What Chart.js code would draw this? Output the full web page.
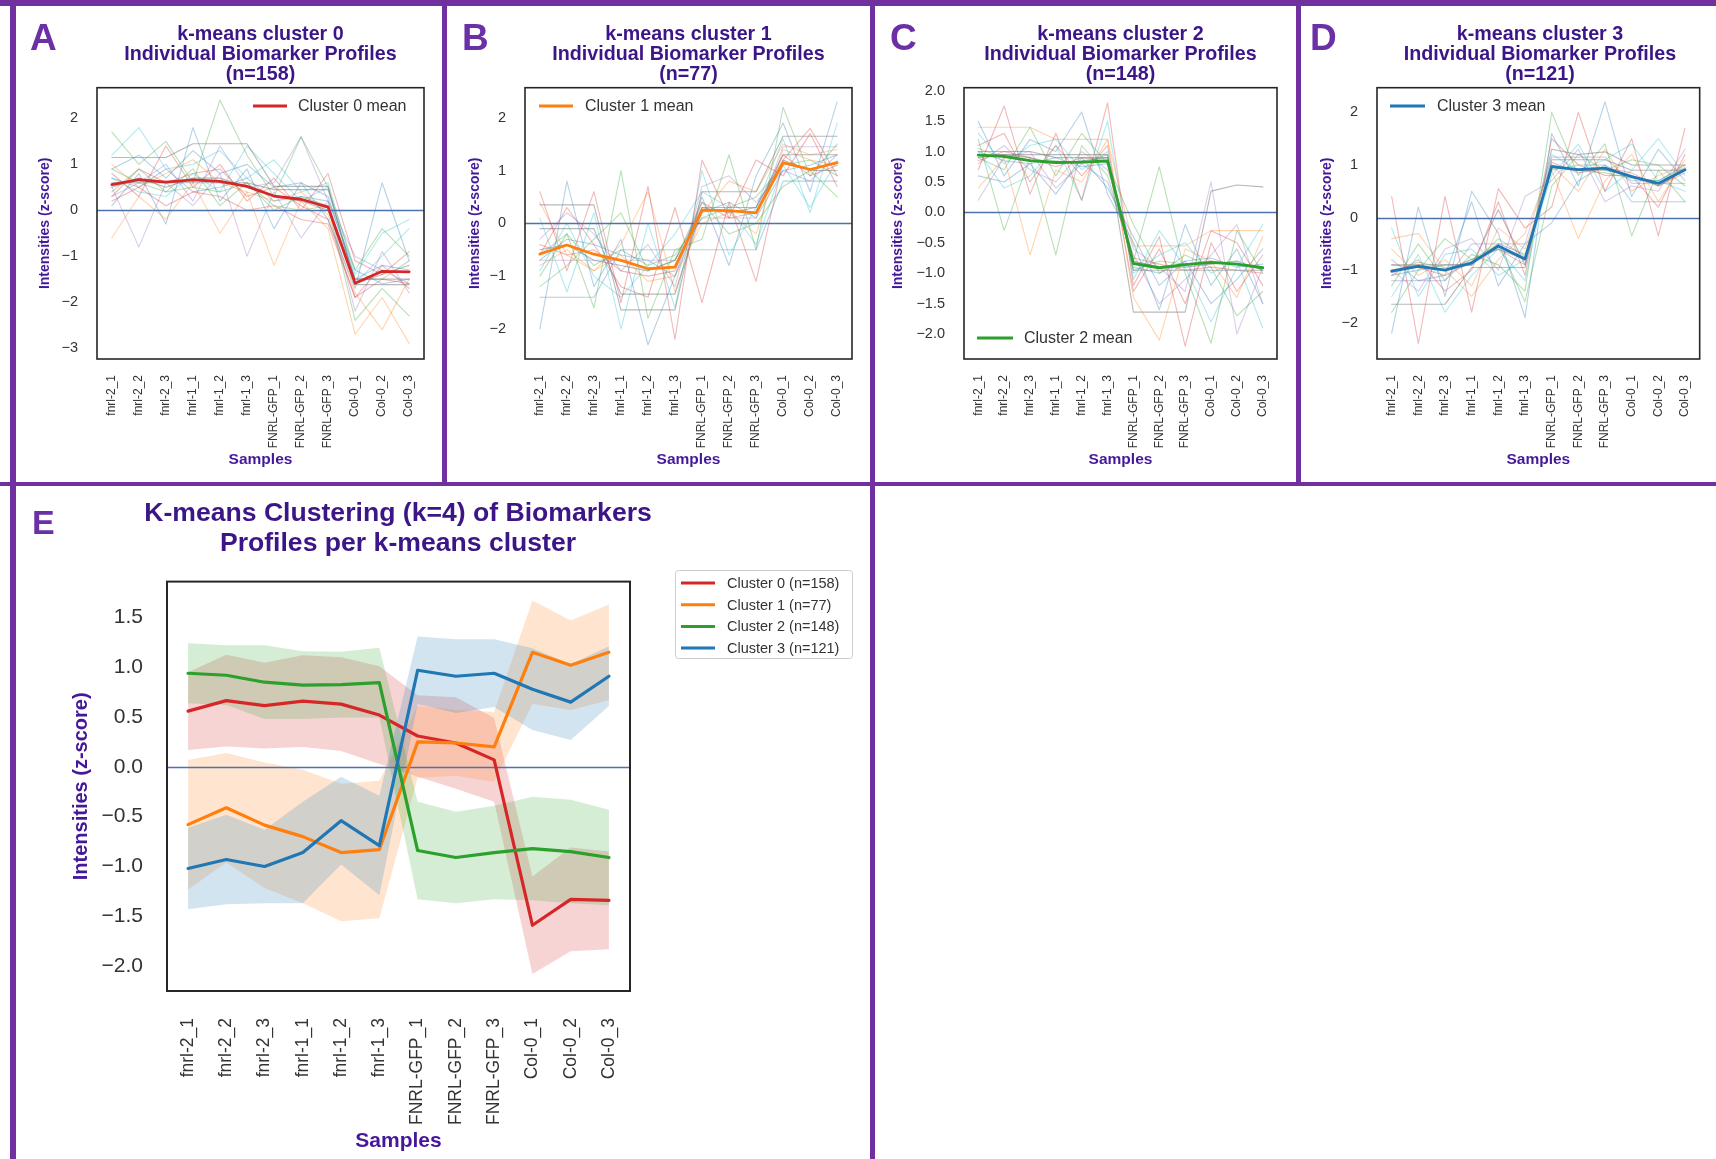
<!DOCTYPE html>
<html>
<head>
<meta charset="utf-8">
<title>K-means clustering of biomarker profiles</title>
<script src="https://cdn.jsdelivr.net/npm/chart.js@4.4.1/dist/chart.umd.min.js"></script>
<style>
  html, body { margin: 0; padding: 0; background: #ffffff; }
  body { width: 1716px; height: 1159px; position: relative; overflow: hidden;
         font-family: "Liberation Sans", Arial, sans-serif; }
  canvas { position: absolute; }
  .rule { position: absolute; background: #7030a0; z-index: 5; }
  .letter { position: absolute; font-weight: bold; color: #6b2fa6; line-height: 1; }
  .title { position: absolute; font-weight: bold; color: #3c1587; text-align: center;
           white-space: nowrap; transform: translateX(-50%); }
</style>
</head>
<body>
<script>
// ---- samples (x axis) ----
const samples = ['fnrl-2_1', 'fnrl-2_2', 'fnrl-2_3', 'fnrl-1_1', 'fnrl-1_2', 'fnrl-1_3',
                 'FNRL-GFP_1', 'FNRL-GFP_2', 'FNRL-GFP_3', 'Col-0_1', 'Col-0_2', 'Col-0_3'];

// ---- cluster sizes ----
const clusterSizes = [158, 77, 148, 121];

// ---- cluster mean profiles (z-score) ----
const mean0 = [0.56, 0.665, 0.615, 0.66, 0.63, 0.52, 0.31, 0.24, 0.07, -1.59, -1.33, -1.34];
const mean1 = [-0.58, -0.41, -0.585, -0.70, -0.86, -0.83, 0.25, 0.24, 0.20, 1.15, 1.02, 1.15];
const mean2 = [0.94, 0.92, 0.85, 0.82, 0.825, 0.845, -0.84, -0.91, -0.86, -0.82, -0.85, -0.91];
const mean3 = [-1.02, -0.93, -1.00, -0.86, -0.54, -0.79, 0.97, 0.91, 0.94, 0.78, 0.65, 0.91];

// ---- cluster standard deviations (shaded bands) ----
const std0 = [0.39, 0.46, 0.43, 0.46, 0.47, 0.49, 0.41, 0.46, 0.42, 0.49, 0.52, 0.49];
const std1 = [0.65, 0.55, 0.63, 0.67, 0.69, 0.69, 0.36, 0.33, 0.35, 0.52, 0.45, 0.48];
const std2 = [0.30, 0.30, 0.37, 0.34, 0.33, 0.35, 0.49, 0.46, 0.47, 0.52, 0.52, 0.48];
const std3 = [0.41, 0.45, 0.37, 0.51, 0.44, 0.50, 0.34, 0.37, 0.34, 0.41, 0.38, 0.30];

// ---- individual biomarker profiles per cluster ----
const cluster0Profiles = [
  [1.15, 1.15, 1.15, 1.45, 1.45, 1.45, 0.52, 0.52, 0.52, -1.62, -1.62, -1.62],
  [0.9, 1.2, 0.7, 1.3, 0.8, 1.0, 0.5, 0.6, 0.3, -1.5, -1.2, -1.3],
  [0.2, 0.5, 0.1, 0.4, 0.3, 0.0, 0.1, -0.2, -0.3, -1.9, -1.5, -1.6],
  [1.7, 1.0, 1.5, 0.6, 2.4, 1.2, 0.3, 1.6, 0.5, -1.3, -0.4, -1.0],
  [-0.6, 0.3, -0.2, 0.6, -0.5, 0.4, -1.2, 0.2, -0.4, -2.7, -1.9, -2.9],
  [0.5, -0.8, 0.6, 0.1, 0.8, -1.0, 0.4, -0.6, 0.2, -2.2, -0.9, -1.8],
  [1.2, 1.8, 0.9, 1.0, 1.3, 0.7, 1.1, 0.4, 0.6, -1.4, -0.5, -0.2],
  [0.6, 0.6, 0.6, 0.6, 0.6, 0.6, 0.45, 0.45, 0.45, -1.5, -1.5, -1.5],
  [0.1, 0.8, -0.3, 1.8, 0.2, 0.9, -0.4, 0.6, -0.2, -1.7, 0.6, -1.1],
  [0.8, 0.3, 1.4, 0.5, 1.0, 0.2, 0.7, 0.0, 0.8, -1.1, -1.4, -0.9],
  [0.4, 0.9, 0.4, 0.9, 0.1, 0.6, 0.0, 0.3, 0.1, -2.4, -1.7, -2.3],
  [1.0, 0.5, 0.8, 1.1, 0.6, 0.4, 0.2, 0.4, -0.1, -1.8, -2.6, -1.5],
  [0.3, 0.6, 1.0, 0.2, 1.4, 0.5, 0.6, 1.6, 0.2, -1.0, -1.3, -1.6],
  [0.7, 0.4, 0.3, 0.8, 0.4, 1.4, 0.8, 0.2, 0.5, -1.6, -1.0, -0.4],
  [0.5, 0.7, 0.5, 0.7, 0.7, 0.5, 0.3, 0.2, 0.0, -1.6, -1.4, -1.2],
  [0.7, 0.5, 0.9, 0.4, 0.5, 0.7, 0.2, 0.3, 0.2, -1.3, -1.6, -1.5],
  [0.3, 0.9, 0.6, 0.8, 0.9, 0.3, 0.5, 0.1, -0.2, -1.9, -1.2, -1.7],
  [0.9, 0.6, 0.4, 0.5, 0.4, 0.6, 0.1, 0.0, 0.1, -1.5, -1.5, -1.1]
];
const cluster1Profiles = [
  [0.35, 0.35, 0.35, -1.64, -1.64, -1.64, 0.6, 0.6, 0.6, 1.65, 1.65, 1.65],
  [-2.0, 0.8, -1.2, -0.3, -2.3, -1.0, 0.5, -0.8, 0.9, 1.9, 0.6, 2.3],
  [0.6, -0.9, 0.6, -1.5, 0.7, -2.2, 1.2, 0.1, 1.2, 0.9, 1.7, 0.7],
  [-1.0, -0.2, -1.6, 1.0, -1.8, -0.5, -0.3, 1.3, -0.5, 2.2, 0.9, 1.5],
  [-0.8, -0.5, -0.9, -0.6, -1.1, -1.0, 0.0, 0.2, -0.2, 1.4, 1.2, 1.1],
  [-0.3, 0.2, -0.2, -0.9, -0.4, -1.2, 0.7, 0.9, 0.4, 1.0, 0.8, 1.3],
  [0.1, -1.3, 0.2, -2.0, 0.0, -1.6, 1.0, -0.6, 0.3, 1.6, 0.2, 1.9],
  [-0.1, -0.1, -0.1, -1.34, -1.34, -1.34, 0.3, 0.3, 0.3, 1.3, 1.3, 1.3],
  [-1.4, -1.4, -1.4, -0.5, -0.5, -0.5, -0.5, -0.5, -0.5, 0.8, 0.8, 0.8],
  [-0.6, 0.3, -0.4, -1.2, -1.4, 0.3, -1.5, 0.4, -1.1, 1.2, 1.8, 0.9],
  [-1.2, -0.8, -0.3, 0.2, -0.9, -0.7, 0.4, -0.2, 0.0, 0.7, 1.0, 0.5],
  [0.4, -0.6, -0.9, -0.4, 0.6, -1.3, 0.2, 0.8, 0.6, 1.5, 1.3, 1.4],
  [-0.7, -0.7, -0.7, -0.7, -0.7, -0.7, 0.1, 0.1, 0.1, 1.45, 1.45, 1.45],
  [-0.9, 0.0, -1.0, -1.4, -0.8, -0.2, 0.6, 0.3, -0.4, 1.1, 0.3, 1.2],
  [-0.5, -0.4, -0.7, -0.8, -0.9, -0.7, 0.3, 0.2, 0.3, 1.2, 1.0, 1.0],
  [-0.7, -0.3, -0.4, -0.6, -0.7, -1.0, 0.2, 0.4, 0.1, 1.0, 1.1, 1.3],
  [-0.4, -0.6, -0.5, -0.9, -1.0, -0.9, 0.4, 0.1, 0.2, 1.3, 0.9, 1.1],
  [-0.6, -0.2, -0.8, -0.5, -0.8, -0.6, 0.1, 0.3, 0.5, 1.1, 1.2, 0.9]
];
const cluster2Profiles = [
  [0.95, 0.95, 0.95, 0.95, 0.95, 0.95, -1.64, -1.64, -1.64, 0.35, 0.45, 0.42],
  [1.5, 0.6, 1.2, 1.0, 1.65, 0.3, -0.5, -1.6, -0.2, -1.2, -0.6, -1.5],
  [0.7, 1.75, 0.3, 1.3, 0.2, 1.8, -1.2, -0.4, -2.2, -0.5, -1.3, -0.7],
  [1.2, -0.3, 0.9, -0.7, 1.1, 0.6, -0.8, 0.75, -1.0, -2.15, -0.3, -1.0],
  [0.4, 0.9, -0.7, 0.7, 0.5, 1.2, -1.4, -2.1, -0.6, -0.8, -1.4, -0.4],
  [0.8, 1.1, 0.7, 0.5, 1.0, 0.7, -0.6, -0.9, -1.3, 0.5, -2.0, -0.9],
  [1.3, 0.8, 1.1, 1.2, 0.7, 1.0, -1.0, -0.7, -0.5, -1.0, -0.8, -1.9],
  [1.0, 1.0, 1.0, 0.9, 0.9, 0.9, -0.95, -0.95, -0.95, -0.95, -0.95, -0.95],
  [0.6, 0.5, 0.8, 0.3, 0.9, 0.4, -0.4, -1.2, -0.8, -1.5, -1.1, -0.6],
  [1.1, 1.3, 0.5, 1.1, 0.6, 1.1, -1.3, -0.6, -1.5, -0.3, -0.5, -1.2],
  [0.9, 0.7, 1.4, 0.6, 1.3, 0.8, -0.2, -1.0, -0.7, -0.9, -1.7, -1.3],
  [1.4, 1.4, 1.4, 1.2, 1.2, 1.2, -0.55, -0.55, -0.55, -0.3, -0.3, -0.3],
  [0.2, 0.9, 1.0, 0.4, 0.8, 0.5, -0.7, -1.5, -1.1, -0.7, -0.2, -1.5],
  [1.0, 0.4, 0.6, 1.1, 0.2, 1.5, -1.1, -0.3, -0.9, -1.8, -0.9, -0.2],
  [0.9, 0.95, 0.9, 0.8, 0.85, 0.9, -0.8, -0.9, -0.9, -0.85, -0.8, -0.95],
  [1.0, 0.85, 0.8, 0.9, 0.75, 0.8, -0.9, -1.0, -0.8, -0.75, -0.9, -0.85],
  [0.85, 1.0, 0.9, 0.75, 0.9, 0.85, -0.75, -0.85, -0.95, -0.9, -0.95, -1.0],
  [1.05, 0.9, 0.85, 0.85, 0.8, 0.95, -0.95, -0.8, -0.85, -0.8, -0.85, -0.9]
];
const cluster3Profiles = [
  [-1.65, -1.65, -1.65, -0.95, -0.95, -0.95, 1.1, 1.1, 1.1, 0.9, 0.9, 0.9],
  [-2.2, 0.2, -1.5, 0.5, -0.3, -1.9, 1.6, 0.6, 2.2, 0.4, 1.3, 0.7],
  [0.4, -2.4, 0.4, -1.8, 0.55, -0.2, 0.2, 2.0, 0.5, 1.5, -0.35, 1.7],
  [-1.3, -0.5, -1.2, -0.7, -0.9, -1.4, 2.0, 0.8, 1.4, -0.35, 0.9, 0.3],
  [-0.6, -1.1, -0.8, -1.3, -0.2, -0.6, 0.9, -0.4, 0.7, 1.2, 0.3, 1.1],
  [-1.0, -1.4, -0.6, -0.4, -1.0, 0.4, 0.7, 1.3, 0.3, 0.6, 0.5, 1.3],
  [-1.5, -0.7, -1.8, -1.1, -0.6, -1.2, 1.2, 0.9, 1.1, 1.4, 0.7, 0.5],
  [-0.9, -0.9, -0.9, -0.9, 0.15, -0.9, 1.3, 1.2, 1.25, 1.0, 1.0, 1.0],
  [-0.8, -1.2, -1.1, 0.3, -1.3, -0.5, -0.1, 0.7, 1.0, 0.3, 0.3, 0.3],
  [-1.1, -0.8, -1.4, -1.0, 0.3, -1.1, 1.5, 1.0, 0.8, 0.8, 0.2, 1.2],
  [-1.8, -1.0, -0.4, -0.8, -0.5, -1.6, 0.6, 1.2, 0.9, 1.1, 1.0, 0.6],
  [-0.4, -0.3, -1.0, -1.5, -0.8, -0.3, 1.0, 0.5, 1.3, 0.5, 0.8, 1.0],
  [-1.2, -1.2, -1.2, -0.5, -0.5, -0.5, 1.15, 1.15, 1.15, 0.65, 0.65, 0.65],
  [-0.2, -1.5, -0.7, -0.6, -1.1, -0.8, 0.8, 1.4, 0.5, 0.9, 1.5, 0.8],
  [-1.0, -0.9, -1.0, -0.8, -0.6, -0.8, 1.0, 0.9, 0.9, 0.8, 0.6, 0.9],
  [-1.1, -1.0, -0.9, -0.9, -0.5, -0.7, 0.9, 1.0, 1.0, 0.7, 0.7, 1.0],
  [-0.9, -0.95, -1.1, -0.85, -0.6, -0.9, 1.05, 0.85, 0.95, 0.85, 0.6, 0.85],
  [-1.05, -0.85, -0.95, -0.9, -0.4, -0.75, 0.95, 0.9, 0.85, 0.75, 0.7, 0.95]
];

// ---- y tick values ----
const ticksA = [-3, -2, -1, 0, 1, 2];
const ticksB = [-2, -1, 0, 1, 2];
const ticksC = [-2.0, -1.5, -1.0, -0.5, 0.0, 0.5, 1.0, 1.5, 2.0];
const ticksD = [-2, -1, 0, 1, 2];
const ticksE = [-2.0, -1.5, -1.0, -0.5, 0.0, 0.5, 1.0, 1.5];

// ------------------------------------------------------------------
const FONT = '"Liberation Sans", Arial, Helvetica, sans-serif';
const AXIS_PURPLE = '#45189a';
const TEXT_GRAY = '#333333';
const clusterColors = ['#d62728', '#ff7f0e', '#2ca02c', '#1f77b4'];
const faintCycle = ['#7f7f7f', '#1f77b4', '#d62728', '#2ca02c', '#ff7f0e', '#9467bd', '#17becf'];

function rgba(hex, a) {
  const n = parseInt(hex.slice(1), 16);
  return `rgba(${(n >> 16) & 255},${(n >> 8) & 255},${n & 255},${a})`;
}
function pts(values) { return values.map((v, i) => ({ x: i, y: v })); }
function fmt(v, dec) {
  const s = Math.abs(v).toFixed(dec);
  return (v < -1e-9 ? '\u2212' : '') + s;
}

// frame around the plotting area
const framePlugin = {
  id: 'frame',
  afterDatasetsDraw(chart, args, o) {
    const { ctx, chartArea: a } = chart;
    ctx.save();
    ctx.strokeStyle = '#262626';
    ctx.lineWidth = o.width || 1.6;
    ctx.strokeRect(a.left, a.top, a.right - a.left, a.bottom - a.top);
    ctx.restore();
  }
};

// horizontal reference line at z = 0, drawn just before a given dataset
const zeroPlugin = {
  id: 'zero',
  beforeDatasetDraw(chart, args, o) {
    if (args.index !== o.before) return;
    const { ctx, chartArea: a, scales } = chart;
    const y = Math.round(scales.y.getPixelForValue(0)) + 0.5;
    ctx.save();
    ctx.strokeStyle = '#4c72b0';
    ctx.lineWidth = 1.3;
    ctx.beginPath();
    ctx.moveTo(a.left, y);
    ctx.lineTo(a.right, y);
    ctx.stroke();
    ctx.restore();
  }
};

// legend placed inside the canvas (coordinates given in page space)
const inLegendPlugin = {
  id: 'inLegend',
  afterDraw(chart, args, o) {
    if (!o.items) return;
    const ctx = chart.ctx;
    const ox = o.originX, oy = o.originY;
    ctx.save();
    if (o.box) {
      const [bx0, by0, bx1, by1] = o.box;
      const x = bx0 - ox + 0.5, y = by0 - oy + 0.5, w = bx1 - bx0, h = by1 - by0, r = 3;
      ctx.beginPath();
      ctx.moveTo(x + r, y);
      ctx.arcTo(x + w, y, x + w, y + h, r);
      ctx.arcTo(x + w, y + h, x, y + h, r);
      ctx.arcTo(x, y + h, x, y, r);
      ctx.arcTo(x, y, x + w, y, r);
      ctx.closePath();
      ctx.fillStyle = 'rgba(255,255,255,0.85)';
      ctx.fill();
      ctx.strokeStyle = '#cccccc';
      ctx.lineWidth = 1;
      ctx.stroke();
    }
    ctx.font = `${o.size}px ${FONT}`;
    ctx.textBaseline = 'middle';
    ctx.textAlign = 'left';
    o.items.forEach((it, i) => {
      const y = o.y + i * (o.step || 0) - oy;
      ctx.strokeStyle = it.color;
      ctx.lineWidth = o.lineWidth;
      ctx.lineCap = 'butt';
      ctx.beginPath();
      ctx.moveTo(o.x0 - ox, y);
      ctx.lineTo(o.x1 - ox, y);
      ctx.stroke();
      ctx.fillStyle = TEXT_GRAY;
      ctx.fillText(it.text, o.tx - ox, y + 1);
    });
    ctx.restore();
  }
};

function makeChart(s) {
  const [cx, cy, cw, ch] = s.canvas;
  const [l, t, r, b] = s.plot;
  const cv = document.createElement('canvas');
  cv.width = cw; cv.height = ch;
  cv.style.left = cx + 'px'; cv.style.top = cy + 'px';
  cv.style.width = cw + 'px'; cv.style.height = ch + 'px';
  document.body.appendChild(cv);
  const yLH = s.fonts.yTitle * 1.2, xLH = s.fonts.xTitle * 1.2;
  const legend = s.legend ? Object.assign({ originX: cx, originY: cy }, s.legend) : {};
  return new Chart(cv, {
    type: 'line',
    data: { datasets: s.datasets },
    options: {
      responsive: false, animation: false, devicePixelRatio: 1, events: [],
      layout: { padding: { left: 0, top: t - cy, right: cx + cw - r, bottom: 0 } },
      elements: {
        point: { radius: 0, hoverRadius: 0 },
        line: { tension: 0, borderJoinStyle: 'round', borderCapStyle: 'round' }
      },
      plugins: {
        legend: { display: false },
        tooltip: { enabled: false },
        frame: { width: s.frameWidth },
        zero: { before: s.zeroBefore },
        inLegend: legend
      },
      scales: {
        x: {
          type: 'linear', min: s.xDomain[0], max: s.xDomain[1],
          grid: { display: false, drawTicks: false }, border: { display: false },
          afterBuildTicks: sc => { sc.ticks = samples.map((_, i) => ({ value: i })); },
          afterFit: sc => { sc.height = cy + ch - b; },
          ticks: {
            autoSkip: false, minRotation: 90, maxRotation: 90, padding: s.xTickGap,
            color: TEXT_GRAY, font: { family: FONT, size: s.fonts.xTick },
            callback: v => samples[v]
          },
          title: {
            display: true, text: 'Samples', color: AXIS_PURPLE,
            font: { family: FONT, size: s.fonts.xTitle, weight: 'bold', lineHeight: 1.2 },
            padding: { top: 0, bottom: cy + ch - s.xTitleY - xLH / 2 }
          }
        },
        y: {
          type: 'linear', min: s.yDomain[0], max: s.yDomain[1],
          grid: { display: false, drawTicks: false }, border: { display: false },
          afterBuildTicks: sc => { sc.ticks = s.yTicks.map(v => ({ value: v })); },
          afterFit: sc => { sc.width = l - cx; },
          ticks: {
            padding: s.yTickGap, color: TEXT_GRAY,
            font: { family: FONT, size: s.fonts.yTick },
            callback: v => fmt(v, s.yDec)
          },
          title: {
            display: true, text: 'Intensities (z-score)', color: AXIS_PURPLE,
            font: { family: FONT, size: s.fonts.yTitle, weight: 'bold', lineHeight: 1.2 },
            padding: { top: s.yTitleX - cx - yLH / 2, bottom: 0 }
          }
        }
      }
    },
    plugins: [framePlugin, zeroPlugin, inLegendPlugin]
  });
}

// page furniture
function addDiv(cls, style, text) {
  const d = document.createElement('div');
  d.className = cls;
  Object.assign(d.style, style);
  if (text !== undefined) d.innerHTML = text;
  document.body.appendChild(d);
  return d;
}

// ---- panels A-D: individual profiles with the cluster mean ----
function profilePanel(k, profiles, mean, geom) {
  const datasets = profiles.map((p, i) => {
    const c = faintCycle[i % faintCycle.length];
    return {
      data: pts(p), borderColor: rgba(c, c === '#7f7f7f' ? 0.55 : 0.33),
      borderWidth: 1.1, order: 10, fill: false
    };
  });
  datasets.push({
    data: pts(mean), borderColor: clusterColors[k], borderWidth: 2.8, order: 0, fill: false
  });
  makeChart({
    canvas: geom.canvas, plot: geom.plot,
    xDomain: [-0.55, 11.55], yDomain: geom.yDomain, yTicks: geom.yTicks, yDec: geom.yDec,
    fonts: { yTick: 14.5, xTick: 12, yTitle: 14, xTitle: 15.5 },
    yTitleX: geom.yTitleX, xTitleY: 460, yTickGap: 19, xTickGap: 16, frameWidth: 1.6,
    datasets, zeroBefore: datasets.length - 1,
    legend: {
      items: [{ color: clusterColors[k], text: `Cluster ${k} mean` }],
      x0: geom.legend[0], x1: geom.legend[1], tx: geom.legend[2], y: geom.legend[3],
      size: 16, lineWidth: 2.8
    }
  });
  const cxm = (geom.plot[0] + geom.plot[2]) / 2;
  addDiv('title', { left: cxm + 'px', top: '23px', fontSize: '19.7px', lineHeight: '20px' },
    `k-means cluster ${k}<br>Individual Biomarker Profiles<br>(n=${clusterSizes[k]})`);
}

profilePanel(0, cluster0Profiles, mean0, {
  canvas: [14, 60, 430, 420], plot: [97, 87, 424, 359],
  yDomain: [-3.24, 2.67], yTicks: ticksA, yDec: 0, yTitleX: 45,
  legend: [253, 287, 298, 106]
});
profilePanel(1, cluster1Profiles, mean1, {
  canvas: [447, 60, 423, 420], plot: [525, 87, 852, 359],
  yDomain: [-2.57, 2.57], yTicks: ticksB, yDec: 0, yTitleX: 475,
  legend: [539, 573, 585, 106]
});
profilePanel(2, cluster2Profiles, mean2, {
  canvas: [876, 60, 420, 420], plot: [964, 87, 1277, 359],
  yDomain: [-2.41, 2.05], yTicks: ticksC, yDec: 1, yTitleX: 898,
  legend: [977, 1013, 1024, 338]
});
profilePanel(3, cluster3Profiles, mean3, {
  canvas: [1301, 60, 415, 420], plot: [1377, 87, 1703, 359],
  yDomain: [-2.69, 2.47], yTicks: ticksD, yDec: 0, yTitleX: 1327,
  legend: [1390, 1425, 1437, 106]
});

// ---- panel E: mean ± sd for all clusters ----
(function () {
  const means = [mean0, mean1, mean2, mean3];
  const sds = [std0, std1, std2, std3];
  const datasets = [];
  // shaded bands first (bottom), then mean lines on top
  means.forEach((m, k) => {
    datasets.push({ data: pts(m.map((v, i) => v + sds[k][i])), borderWidth: 0, borderColor: 'rgba(0,0,0,0)',
                    fill: '+1', backgroundColor: rgba(clusterColors[k], 0.2), order: 20 - k });
    datasets.push({ data: pts(m.map((v, i) => v - sds[k][i])), borderWidth: 0, borderColor: 'rgba(0,0,0,0)',
                    fill: false, order: 20 - k });
  });
  const firstLine = datasets.length;
  means.forEach((m, k) => {
    datasets.push({ data: pts(m), borderColor: clusterColors[k], borderWidth: 3.2, fill: false, order: 8 - k });
  });
  makeChart({
    canvas: [14, 545, 858, 614], plot: [167, 562, 630, 991],
    xDomain: [-0.55, 11.55], yDomain: [-2.25, 1.86], yTicks: ticksE, yDec: 1,
    fonts: { yTick: 21, xTick: 17.5, yTitle: 20, xTitle: 21 },
    yTitleX: 81, xTitleY: 1141, yTickGap: 24, xTickGap: 27, frameWidth: 2,
    datasets, zeroBefore: firstLine,
    legend: {
      items: clusterColors.map((c, k) => ({ color: c, text: `Cluster ${k} (n=${clusterSizes[k]})` })),
      box: [675, 570, 852, 658],
      x0: 681, x1: 715, tx: 727, y: 583, step: 21.7, size: 14.5, lineWidth: 3
    }
  });
  addDiv('title', { left: '398px', top: '497px', fontSize: '26.6px', lineHeight: '30px' },
    'K-means Clustering (k=4) of Biomarkers<br>Profiles per k-means cluster');
})();

// ---- panel letters ----
[['A', 30, 19, 37], ['B', 462, 19, 37], ['C', 890, 19, 37], ['D', 1310, 19, 37], ['E', 32, 505, 34]]
  .forEach(([t, x, y, fs]) => addDiv('letter', { left: x + 'px', top: y + 'px', fontSize: fs + 'px' }, t));

// ---- purple panel rules ----
[[0, 0, 1716, 6], [10, 0, 6, 1159], [442, 0, 5, 485], [870, 0, 5, 1159],
 [1296, 0, 5, 485], [0, 482, 1716, 4]]
  .forEach(([x, y, w, h]) => addDiv('rule', { left: x + 'px', top: y + 'px', width: w + 'px', height: h + 'px' }));
</script>
</body>
</html>
